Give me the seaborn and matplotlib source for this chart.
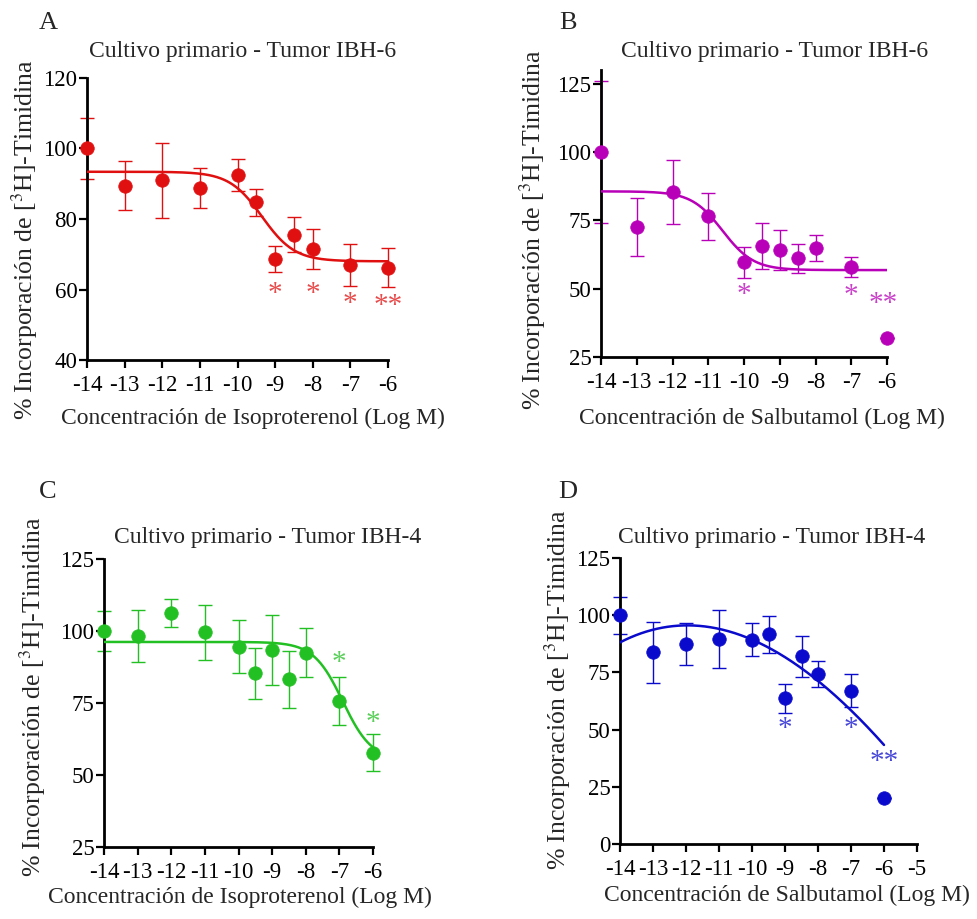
import numpy as np
import pandas as pd
import matplotlib
matplotlib.use("Agg")
import matplotlib.pyplot as plt
import seaborn as sns

# --- datos ---
conc = [-14, -13, -12, -11, -10, -9.5, -9, -8.5, -8, -7, -6]

# A: Isoproterenol, IBH-6
a_mean = [100, 89.5, 91, 88.8, 92.4, 84.7, 68.7, 75.5, 71.4, 67, 66.2]
a_err = [8.6, 7, 10.7, 5.8, 4.5, 3.9, 3.6, 5, 5.7, 6, 5.6]
a_fit = [68.0, 93.4, -9.35, 1.0]          # bottom, top, logEC50, hill
a_sig_x = [-9, -8, -7, -6]
a_sig_y = [58.8, 58.8, 56.0, 55.4]
a_sig_txt = ["*", "*", "*", "**"]

# B: Salbutamol, IBH-6
b_mean = [100, 72.6, 85.4, 76.5, 59.6, 65.7, 64, 61.1, 64.9, 57.9, 31.9]
b_err = [26, 10.6, 11.8, 8.6, 5.6, 8.4, 7.3, 5.2, 4.6, 3.7, 0]
b_fit = [56.8, 85.6, -10.6, 1.0]
b_sig_x = [-10, -7, -6.1]
b_sig_y = [47.8, 47.4, 44.5]
b_sig_txt = ["*", "*", "**"]

# C: Isoproterenol, IBH-4
c_mean = [100, 98.4, 106.2, 99.5, 94.6, 85.3, 93.4, 83.2, 92.5, 75.7, 57.7]
c_err = [7.1, 9, 4.8, 9.4, 9.3, 8.9, 12.3, 10, 8.4, 8.5, 6.4]
c_fit = [55.0, 96.2, -6.9, 1.0]
c_sig_x = [-7, -6]
c_sig_y = [89, 68.1]
c_sig_txt = ["*", "*"]

# D: Salbutamol, IBH-4 (ajuste polinomico, lecturas de la curva)
d_mean = [100, 83.7, 87.4, 89.6, 89.3, 91.7, 63.7, 82, 74.4, 67, 20.3]
d_err = [8, 13.3, 9.2, 12.6, 7.3, 8.1, 6.3, 9, 5.7, 7.1, 0]
d_curve_x = [-14, -13, -12, -11, -10, -9, -8, -7, -6]
d_curve_y = [88.5, 93.3, 95, 93.6, 90.7, 82, 71, 57.2, 44]
d_sig_x = [-9, -7, -6]
d_sig_y = [50.3, 50.3, 35.8]
d_sig_txt = ["*", "*", "**"]

ylabel = r"% Incorporación de [$^{3}$H]-Timidina"
W, H = 977, 919


def sigmoid(x, p):
    bottom, top, ec50, hill = p
    return bottom + (top - bottom) / (1 + 10 ** ((x - ec50) * hill))


sns.set_style("ticks")
plt.rcParams["font.family"] = ["Liberation Serif", "DejaVu Serif"]
plt.rcParams["mathtext.fontset"] = "stix"

fig = plt.figure(figsize=(W / 100, H / 100), dpi=100)

panels = [
    dict(letter="A", color="#e01010", mean=a_mean, err=a_err, fit=a_fit,
         sig=(a_sig_x, a_sig_y, a_sig_txt), box=(87, 78, 388, 360),
         ylim=(40, 120), yticks=[40, 60, 80, 100, 120], xlim=(-14, -6),
         title="Cultivo primario - Tumor IBH-6",
         xlabel="Concentración de Isoproterenol (Log M)",
         let_xy=(48, 23), tit_xy=(243, 52), yl_xy=(25, 240), xl_xy=(253, 418)),
    dict(letter="B", color="#b800b8", mean=b_mean, err=b_err, fit=b_fit,
         sig=(b_sig_x, b_sig_y, b_sig_txt), box=(601, 70, 887, 357),
         ylim=(25, 130), yticks=[25, 50, 75, 100, 125], xlim=(-14, -6),
         title="Cultivo primario - Tumor IBH-6",
         xlabel="Concentración de Salbutamol (Log M)",
         let_xy=(568, 23), tit_xy=(775, 52), yl_xy=(533, 230), xl_xy=(762, 418)),
    dict(letter="C", color="#22c022", mean=c_mean, err=c_err, fit=c_fit,
         sig=(c_sig_x, c_sig_y, c_sig_txt), box=(104, 559, 373, 847),
         ylim=(25, 125), yticks=[25, 50, 75, 100, 125], xlim=(-14, -6),
         title="Cultivo primario - Tumor IBH-4",
         xlabel="Concentración de Isoproterenol (Log M)",
         let_xy=(48, 492), tit_xy=(268, 538), yl_xy=(33, 697), xl_xy=(240, 897)),
    dict(letter="D", color="#0a0acc", mean=d_mean, err=d_err, fit=None,
         sig=(d_sig_x, d_sig_y, d_sig_txt), box=(620, 558, 917, 844),
         ylim=(0, 125), yticks=[0, 25, 50, 75, 100, 125], xlim=(-14, -5),
         title="Cultivo primario - Tumor IBH-4",
         xlabel="Concentración de Salbutamol (Log M)",
         let_xy=(568, 492), tit_xy=(772, 538), yl_xy=(558, 690), xl_xy=(787, 895)),
]

for p in panels:
    x0, y0, x1, y1 = p["box"]
    ax = fig.add_axes([x0 / W, 1 - y1 / H, (x1 - x0) / W, (y1 - y0) / H])
    col = p["color"]
    df = pd.DataFrame({"x": conc, "y": p["mean"], "e": p["err"]})

    eb = ax.errorbar(df["x"], df["y"], yerr=df["e"], fmt="none", ecolor=col,
                     elinewidth=1.0, capsize=5, capthick=1.0, zorder=2)
    for art in list(eb.lines[1]) + list(eb.lines[2]):
        art.set_clip_on(False)

    xs = np.linspace(-14, -6, 300)
    if p["fit"] is not None:
        ys = sigmoid(xs, p["fit"])
    else:
        coef = np.polyfit(d_curve_x, d_curve_y, 3)
        ys = np.polyval(coef, xs)
    sns.lineplot(x=xs, y=ys, ax=ax, color=col, linewidth=1.8, zorder=3)
    sns.scatterplot(data=df, x="x", y="y", ax=ax, color=col, s=95,
                    edgecolor=col, linewidth=0.5, zorder=4, clip_on=False)

    sx, sy, st = p["sig"]
    for xx, yy, tt in zip(sx, sy, st):
        ax.text(xx, yy, tt, color=col, alpha=0.75, fontsize=21,
                ha="center", va="center")

    ax.set_xlim(*p["xlim"])
    ax.set_ylim(*p["ylim"])
    ax.set_yticks(p["yticks"])
    ticks = list(range(int(p["xlim"][0]), int(p["xlim"][1]) + 1))
    ax.set_xticks(ticks)
    ax.set_xticklabels([str(t) for t in ticks])
    ax.set_xlabel("")
    ax.set_ylabel("")
    sns.despine(ax=ax)
    for s in ["left", "bottom"]:
        ax.spines[s].set_linewidth(2.0)
        ax.spines[s].set_color("black")
    ax.tick_params(direction="out", length=6, width=1.6, labelsize=16.5,
                   colors="black")
    ax.tick_params(axis="x", pad=5)
    ax.tick_params(axis="y", pad=1)

    fig.text(p["let_xy"][0] / W, 1 - p["let_xy"][1] / H, p["letter"],
             fontsize=19, ha="center", va="center")
    fig.text(p["tit_xy"][0] / W, 1 - p["tit_xy"][1] / H, p["title"],
             fontsize=17, ha="center", va="center")
    fig.text(p["yl_xy"][0] / W, 1 - p["yl_xy"][1] / H, ylabel,
             fontsize=18.5, ha="center", va="center", rotation=90)
    fig.text(p["xl_xy"][0] / W, 1 - p["xl_xy"][1] / H, p["xlabel"],
             fontsize=17, ha="center", va="center")

fig.savefig("out.png", dpi=100, facecolor="white")
